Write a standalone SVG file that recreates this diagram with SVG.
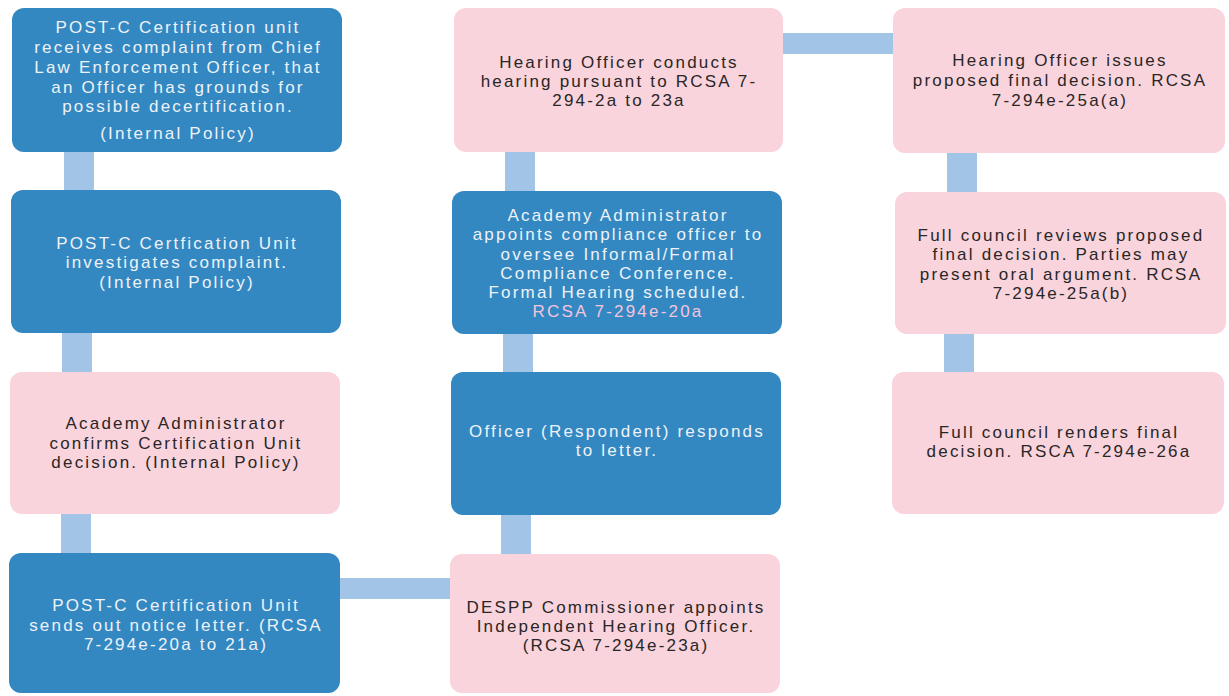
<svg xmlns="http://www.w3.org/2000/svg" width="1229" height="696" viewBox="0 0 1229 696">
<style>
.blue{fill:#3388c2}
.pink{fill:#f9d4dc}
.conn{fill:#a2c4e6}
text{font-family:"Liberation Sans",Arial,sans-serif;font-size:17px;letter-spacing:2.2px;text-anchor:middle}
.lt{fill:#eef2f7}
.dk{fill:#2a2626}
.pk{fill:#f4c4dc}
</style>
<rect width="1229" height="696" fill="#ffffff"/>
<g id="connectors">
<rect class="conn" x="64" y="152" width="30" height="38"/>
<rect class="conn" x="62" y="333" width="30" height="39"/>
<rect class="conn" x="61" y="514" width="30" height="39"/>
<rect class="conn" x="340" y="578" width="110" height="21"/>
<rect class="conn" x="505" y="152" width="30" height="39"/>
<rect class="conn" x="503" y="334" width="30" height="38"/>
<rect class="conn" x="501" y="515" width="30" height="39"/>
<rect class="conn" x="783" y="33" width="110" height="21"/>
<rect class="conn" x="947" y="153" width="30" height="39"/>
<rect class="conn" x="944" y="334" width="30" height="38"/>
</g>
<g id="n1">
<rect class="blue" x="12" y="8" width="330" height="144" rx="12"/>
<text class="lt" x="178" y="33">POST-C Certification unit</text>
<text class="lt" x="178" y="53">receives complaint from Chief</text>
<text class="lt" x="178" y="73">Law Enforcement Officer, that</text>
<text class="lt" x="178" y="93">an Officer has grounds for</text>
<text class="lt" x="178" y="112">possible decertification.</text>
<text class="lt" x="178" y="139">(Internal Policy)</text>
</g>
<g id="n2">
<rect class="blue" x="11" y="190" width="330" height="143" rx="12"/>
<text class="lt" x="177" y="249">POST-C Certfication Unit</text>
<text class="lt" x="177" y="268">investigates complaint.</text>
<text class="lt" x="177" y="288">(Internal Policy)</text>
</g>
<g id="n3">
<rect class="pink" x="10" y="372" width="330" height="142" rx="12"/>
<text class="dk" x="176" y="429">Academy Administrator</text>
<text class="dk" x="176" y="449">confirms Certification Unit</text>
<text class="dk" x="176" y="468">decision. (Internal Policy)</text>
</g>
<g id="n4">
<rect class="blue" x="9" y="553" width="331" height="140" rx="12"/>
<text class="lt" x="176" y="611">POST-C Certification Unit</text>
<text class="lt" x="176" y="631">sends out notice letter. (RCSA</text>
<text class="lt" x="176" y="650">7-294e-20a to 21a)</text>
</g>
<g id="n5">
<rect class="pink" x="450" y="554" width="330" height="139" rx="12"/>
<text class="dk" x="616" y="613">DESPP Commissioner appoints</text>
<text class="dk" x="616" y="632">Independent Hearing Officer.</text>
<text class="dk" x="616" y="651">(RCSA 7-294e-23a)</text>
</g>
<g id="n6">
<rect class="blue" x="451" y="372" width="330" height="143" rx="12"/>
<text class="lt" x="617" y="437">Officer (Respondent) responds</text>
<text class="lt" x="617" y="456">to letter.</text>
</g>
<g id="n7">
<rect class="blue" x="452" y="191" width="330" height="143" rx="12"/>
<text class="lt" x="618" y="221">Academy Administrator</text>
<text class="lt" x="618" y="240">appoints compliance officer to</text>
<text class="lt" x="618" y="260">oversee Informal/Formal</text>
<text class="lt" x="618" y="279">Compliance Conference.</text>
<text class="lt" x="618" y="298">Formal Hearing scheduled.</text>
<text class="pk" x="618" y="317">RCSA 7-294e-20a</text>
</g>
<g id="n8">
<rect class="pink" x="454" y="8" width="329" height="144" rx="12"/>
<text class="dk" x="619" y="68">Hearing Officer conducts</text>
<text class="dk" x="619" y="87">hearing pursuant to RCSA 7-</text>
<text class="dk" x="619" y="106">294-2a to 23a</text>
</g>
<g id="n9">
<rect class="pink" x="893" y="8" width="332" height="145" rx="12"/>
<text class="dk" x="1060" y="66">Hearing Officer issues</text>
<text class="dk" x="1060" y="86">proposed final decision. RCSA</text>
<text class="dk" x="1060" y="106">7-294e-25a(a)</text>
</g>
<g id="n10">
<rect class="pink" x="895" y="192" width="331" height="142" rx="12"/>
<text class="dk" x="1061" y="241">Full council reviews proposed</text>
<text class="dk" x="1061" y="260">final decision. Parties may</text>
<text class="dk" x="1061" y="280">present oral argument. RCSA</text>
<text class="dk" x="1061" y="299">7-294e-25a(b)</text>
</g>
<g id="n11">
<rect class="pink" x="892" y="372" width="332" height="142" rx="12"/>
<text class="dk" x="1059" y="438">Full council renders final</text>
<text class="dk" x="1059" y="457">decision. RSCA 7-294e-26a</text>
</g>
</svg>
